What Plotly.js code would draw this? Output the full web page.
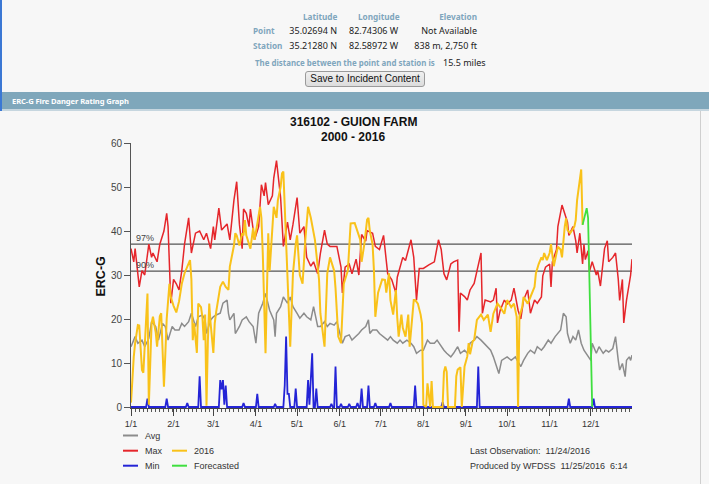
<!DOCTYPE html>
<html><head><meta charset="utf-8">
<script src="https://cdn.plot.ly/plotly-3.0.1.min.js"></script>
<style>
html,body{margin:0;padding:0;width:709px;height:484px;overflow:hidden;background:#f7f7f7;font-family:"Noto Sans",sans-serif;}
.t{position:absolute;white-space:nowrap;font-size:9px;line-height:12px;color:#222;transform:translateY(-50%);}
.lb{color:#7fa6bd;font-weight:bold;font-size:8.2px;}
#bar{position:absolute;left:0;top:92px;width:709px;height:17px;background:#7fa7bb;border-bottom:2px solid #c6d6df;}
#bar span{position:absolute;left:12px;top:50%;transform:translateY(-50%);color:#fff;font-weight:bold;font-size:7.6px;letter-spacing:-0.1px;}
#btn{position:absolute;left:305px;top:71px;width:118px;height:14px;border:1px solid #9a9a9a;border-radius:3px;background:linear-gradient(#f0f0f0,#dcdcdc);font-family:"Liberation Sans",Arial,sans-serif;font-size:10px;line-height:14px;text-align:center;color:#111;}
#lborder{position:absolute;left:0;top:0;width:2px;height:484px;background:#3b78d4;}
#rborder{position:absolute;left:700px;top:111px;width:1px;height:373px;background:#cfcfcf;}
#chart{position:absolute;left:0;top:111px;width:700px;height:373px;}
</style></head>
<body>
<div class="t lb" style="left:303px;top:17px">Latitude</div>
<div class="t lb" style="left:358px;top:17px">Longitude</div>
<div class="t lb" style="right:232px;top:17px">Elevation</div>
<div class="t lb" style="left:253px;top:31px">Point</div>
<div class="t" style="right:372px;top:31px">35.02694 N</div>
<div class="t" style="left:349px;top:31px">82.74306 W</div>
<div class="t" style="right:232px;top:31px">Not Available</div>
<div class="t lb" style="left:253px;top:45.5px">Station</div>
<div class="t" style="right:372px;top:45.5px">35.21280 N</div>
<div class="t" style="left:349px;top:45.5px">82.58972 W</div>
<div class="t" style="right:232px;top:45.5px">838 m, 2,750 ft</div>
<div class="t lb" style="left:255px;top:62.5px;font-size:7.9px">The distance between the point and station is</div>
<div class="t" style="left:443px;top:62.5px">15.5 miles</div>
<div id="btn">Save to Incident Content</div>
<div id="bar"><span>ERC-G Fire Danger Rating Graph</span></div>
<div id="lborder"></div>
<div id="rborder"></div>
<div id="chart"></div>
<script>
// ---- data (day of year, 0 = Jan 1) ----
const monthDay = [0,31,60,91,121,152,182,213,244,274,305,335];
const monthLabel = ['1/1','2/1','3/1','4/1','5/1','6/1','7/1','8/1','9/1','10/1','11/1','12/1'];
const yTicks = [0,10,20,30,40,50,60];
const pct97 = 37.0;
const pct90 = 30.9;

const maxDay = [0,2,3,6,8,10,13,15,16,19,
 21,24,26,27,29,31,33,35,37,39,
 42,44,47,50,53,55,58,60,61,64,
 66,70,72,75,77,79,81,82,84,86,
 87,89,90,93,95,97,98,100,103,104,
 106,109,111,114,116,118,121,123,126,128,
 131,133,136,138,141,143,145,150,153,154,
 156,159,161,164,166,168,171,172,176,178,
 181,184,187,190,193,194,198,200,204,206,
 208,210,213,217,221,224,226,228,230,233,
 235,238,239,240,243,245,247,250,252,255,
 256,258,262,264,266,267,269,272,274,277,
 279,282,284,286,289,291,294,296,299,300,
 302,305,306,307,310,311,314,316,318,319,
 322,324,325,327,329,330,331,333,334,336,
 339,340,342,345,347,348,351,353,355,356,
 358,359,361,364,365];
const maxErc = [36,33,36,27.3,31,30,37,34,35,33,
 37,40,44,41,23.6,29,28,26.6,31,37,
 43,35,39.5,40,38,39.5,36,41,38,45.2,
 40.2,41.6,38,47,51.2,41.5,36,45,44,41,
 45,40.7,38,41,50.5,48,51,46,48,52,
 56,47.6,36.5,42,38,41.5,47.6,39.5,41,34,
 32,33,30.3,35,40.2,37,36.5,36.5,31.8,25.9,
 31.8,32.5,30.3,33.6,30,39.2,37.7,40.1,39.5,36.5,
 35.8,39,30.3,28.9,25.9,29.5,34,33.3,38,34,
 24.3,31.5,31.5,32.3,33,38,35.8,30.3,28.9,32.5,
 33,33.4,17.1,25.9,25.1,24.3,26.6,28.1,31.2,35,
 21.3,24.3,23.9,24.3,27,19.1,22,24.3,23.4,24.3,
 27,22,20,24.3,26.6,21.3,24.3,23.6,25,29.8,
 31.8,32.5,27.3,33,35.8,41,45.9,44,42,39,
 41,37.8,35,39.5,32.5,37,33.5,35.5,30.8,33,
 30,31,27.5,36,37.8,33,34,35,29,24.2,
 29,19.1,24.3,30,33.6];

const yrDay = [0,1,2,3,5,6,7,8,9,10,
 11,12,13,14,15,16,17,18,19,20,
 21,22,24,25,26,28,29,31,33,35,
 37,39,41,43,44,45,46,48,49,51,
 52,53,54,55,56,57,58,60,61,62,
 65,67,69,71,72,75,76,77,79,81,
 82,83,84,87,89,90,92,94,95,96,
 98,99,100,101,103,104,106,107,109,110,
 111,112,114,115,116,117,118,120,121,123,
 125,127,129,131,134,137,138,141,142,143,
 145,148,149,150,151,153,154,155,158,160,
 163,165,167,168,170,172,173,174,176,177,
 178,180,183,185,186,188,189,191,193,194,
 195,197,198,200,202,203,206,207,209,211,
 212,213,215,216,218,219,220,227,228,229,
 230,231,236,237,238,240,241,243,244,245,
 246,247,249,250,252,255,257,260,262,264,
 267,269,272,274,277,279,281,282,283,285,
 286,289,291,294,295,297,299,300,301,303,
 305,306,308,311,313,314,316,317,318,320,
 323,324,325,327,328,329];
const yrErc = [1,8,11.4,14.5,18.6,18.5,12.3,8.4,7.8,14,
 21.3,25.8,0.5,13,19,20.5,18.5,17,13.7,17,
 20.6,21.3,4.6,12,20,28,25,23,21.5,24,
 28,30.4,31.9,33.4,29,15.2,19,12.3,23.5,22.7,
 20.5,15.2,21,0.3,15,23.5,19,12.3,19,21.5,
 27.3,28.5,27.3,26.6,31.9,36.7,39.5,39,36.7,39.5,
 39,42.5,39,36,40.7,38,41.6,45.5,43,35,
 12.2,28,39.5,31,42.5,45.5,43,47,50,53.1,
 53.5,45,26.6,20,13.7,22,30.3,37,39,30,
 28,38,45.5,43,38,28.9,21.2,13.7,24,30.4,
 34,31,27,20.2,16,14.5,20,28,31,41.7,
 41.8,40.1,38,33,37,42.6,43,40,37,31,
 20.5,26,29,28.9,26,30.4,24.3,21,26.6,20.2,
 16,21,18,16,21,13.7,24.3,24.3,23.5,21,
 19,0.5,0,5.4,0,5.9,0,0,8,9.2,
 8,0,0,7,8.5,9,0,9.2,10.7,11.5,
 14.5,12,15,15.2,19.8,21,19.8,21,17.1,21.2,
 23.5,22.7,21.2,24.3,22.7,23.5,20.5,0,20.5,22.7,
 25,23.5,25,27.3,30.4,32.5,34,33.4,35,33.4,
 35,37,32,36.4,35.8,34,41,42.9,40.2,39.5,
 41,42.5,47,51.5,54,41.4];

const avgDay = [0,3,5,8,10,13,15,18,20,23,
 25,27,30,32,35,37,39,42,44,47,
 49,52,54,55,58,60,62,65,67,70,
 71,72,75,76,79,81,84,86,89,91,
 93,96,98,100,101,104,105,106,109,111,
 114,116,118,121,123,126,128,131,133,136,
 138,141,143,145,148,150,153,154,156,159,
 161,164,166,168,171,173,174,176,179,181,
 184,187,189,191,194,196,198,201,204,206,
 208,211,213,216,218,221,223,226,228,230,
 233,235,238,240,243,245,247,250,252,255,
 257,260,262,264,266,268,270,274,277,280,
 284,286,289,291,294,296,299,301,304,306,
 309,311,313,315,317,318,320,322,324,326,
 328,330,333,335,336,339,341,344,346,348,
 351,353,355,356,358,360,361,363,364,365];
const avgErc = [13.7,16,14.5,15.2,13.7,15.6,19.4,18.3,15.2,19,
 18.3,15.2,18.3,17.5,17.5,19,18.3,19.4,21.3,18.3,
 20.5,20.9,19.8,16.7,19.8,20.5,20.9,21.3,23.6,24.3,
 21.3,19.8,21.3,16.7,18.3,19.8,20.5,19.4,18.3,14.5,
 21.3,23.6,25.8,22.8,22,19.8,16,21.3,22.8,25,
 23.6,25,22.8,21.3,20.2,21.3,20.5,19.8,22.8,18.3,
 18.3,19.4,18.3,19,18.6,19.4,15.2,14.5,16,16.4,
 15.2,16,16.7,17.5,18.3,19.8,16.7,17.5,17.5,16.7,
 16,15.2,16,15.2,14.5,15.2,14.5,15.2,14.5,13.7,
 12.2,12.9,12.9,15.2,14.5,14.5,15.2,13.7,12.9,12.2,
 11.4,12.2,13.7,12.2,12.9,12.2,14.5,15.2,16,15.2,
 14.5,13.7,12.9,11.4,9.5,7.6,10.6,11.4,10.6,11.4,
 9.2,10.6,12.2,12.9,12.2,13.7,12.9,13.7,15.2,14.5,
 16,16.7,17.5,21.3,20.5,16.7,14.5,16,15.2,17.5,
 14.5,12.9,11.4,10.6,14.5,12.2,13.7,12.2,12.9,12.5,
 13.3,16,10.6,8.4,9.9,6.9,10.6,11.4,10.6,11.8];

const minDay = [0,11,12,13,25,26,27,40,41,42,
 49,50,51,64,65,66,67,68,69,70,
 81,82,83,91,92,93,104,105,106,111,
 112,113,114,115,116,119,120,121,128,129,
 130,132,133,134,135,136,145,146,147,148,
 149,150,152,153,154,158,159,160,164,165,
 166,167,168,169,172,173,174,177,178,179,
 188,189,190,206,207,208,226,227,228,252,
 253,254,318,319,320,336,337,338,365];
const minErc = [0,0,1.9,0,0,1.9,0,0,0.9,0,
 0,7,0,0,6.1,4,6.1,0.5,4.9,0,
 0,0.9,0,0,3,0,0,0.7,0,0,
 4.9,16,3,3,0,0,4.2,0,0,6.1,
 0.5,12.2,0,0,4.2,0,0,0.7,0,0,
 9.2,0,0,0.7,0,0,0.7,0,0,0.9,
 0,0,4.2,0,0,4.9,0,0,0.9,0,
 0,0.9,0,0,4.9,0,0,1.1,0,0,
 9.2,0,0,1.9,0,0,1.9,0,0];

const fcDay = [329,330,332,333,336];
const fcErc = [41.4,42.5,45.2,43,0];

// ---- styling / geometry ----
const C = {avg:'#8c8c8c', max:'#e5262b', yr:'#f9c21a', min:'#2424d6', fc:'#3fdf3f', pct:'#555555', txt:'#333333'};
// page-pixel helpers (plot area: x 131..632, y 143..408 in page px)
const PX = p => (p - 131) / 501;
const PY = p => (408 - p) / 265;
const F = {family:'Liberation Sans, Arial, sans-serif', size:9, color:C.txt};

const traces = [
 {x:[0,365], y:[pct97,pct97], mode:'lines', line:{color:C.pct, width:1.2}},
 {x:[0,365], y:[pct90,pct90], mode:'lines', line:{color:C.pct, width:1.2}},
 {x:avgDay, y:avgErc, mode:'lines', line:{color:C.avg, width:1.5}},
 {x:maxDay, y:maxErc, mode:'lines', line:{color:C.max, width:1.5}},
 {x:minDay, y:minErc, mode:'lines', line:{color:C.min, width:1.8}},
 {x:yrDay, y:yrErc, mode:'lines', line:{color:C.yr, width:2}},
 {x:fcDay, y:fcErc, mode:'lines', line:{color:C.fc, width:1.8}}
];

const shapes = [];
const ann = [
 {text:'<b>316102 - GUION FARM</b>', x:PX(353), y:PY(122), font:{family:F.family,size:12,color:'#111'}},
 {text:'<b>2000 - 2016</b>', x:PX(353), y:PY(137), font:{family:F.family,size:12,color:'#111'}},
 {text:'<b>ERC-G</b>', x:PX(100), y:PY(276.5), textangle:-90, font:{family:F.family,size:12.5,color:'#111'}},
 {text:'97%', xref:'x', yref:'y', x:2, y:pct97, xanchor:'left', yshift:6, font:{family:F.family,size:9,color:'#444'}},
 {text:'90%', xref:'x', yref:'y', x:2, y:pct90, xanchor:'left', yshift:6, font:{family:F.family,size:9,color:'#444'}},
 {text:'Last Observation:\u00a0 11/24/2016', x:PX(468), y:PY(450.7), xanchor:'left', font:F},
 {text:'Produced by WFDSS\u00a0 11/25/2016\u00a0 6:14', x:PX(468), y:PY(465.7), xanchor:'left', font:F}
];
const legendItems = [
 {name:'Avg', col:C.avg, x:123, y:435.5},
 {name:'Max', col:C.max, x:123, y:450.7},
 {name:'2016', col:C.yr, x:172, y:450.7},
 {name:'Min', col:C.min, x:123, y:465.7},
 {name:'Forecasted', col:C.fc, x:172, y:465.7}
];
legendItems.forEach(it => {
 shapes.push({type:'line', xref:'paper', yref:'paper', x0:PX(it.x), x1:PX(it.x+15), y0:PY(it.y), y1:PY(it.y), line:{color:it.col, width:2}});
 ann.push({text:it.name, x:PX(it.x+19.5), y:PY(it.y), xanchor:'left', font:F});
});
ann.forEach(a => { a.xref = a.xref || 'paper'; a.yref = a.yref || 'paper'; a.showarrow = false; a.yanchor = a.yanchor || 'middle'; if(!a.xanchor) a.xanchor='center'; });

const layout = {
 width:700, height:373,
 margin:{l:131, r:68, t:32, b:76, pad:0},
 paper_bgcolor:'#f7f7f7', plot_bgcolor:'#f7f7f7',
 showlegend:false,
 xaxis:{range:[0,365], tickmode:'array', tickvals:monthDay, ticktext:monthLabel,
  ticks:'outside', ticklen:7, tickwidth:1, tickcolor:'#444',
  showline:true, linecolor:'#444', linewidth:1, layer:'below traces',
  showgrid:false, zeroline:false,
  tickfont:{family:F.family, size:9, color:'#333'},
  minor:{tickmode:'linear', tick0:0, dtick:3, ticks:'outside', ticklen:3, tickcolor:'#555', showgrid:false}},
 yaxis:{range:[-0.227,60], tickmode:'array', tickvals:yTicks,
  ticks:'outside', ticklen:6, tickcolor:'#555', tickwidth:1,
  showline:true, linecolor:'#555', linewidth:1, showgrid:false, zeroline:false,
  tickfont:{family:F.family, size:10, color:'#444'}},
 shapes:shapes, annotations:ann
};
Plotly.newPlot('chart', traces, layout, {displayModeBar:false, staticPlot:true});
</script>
</body></html>
